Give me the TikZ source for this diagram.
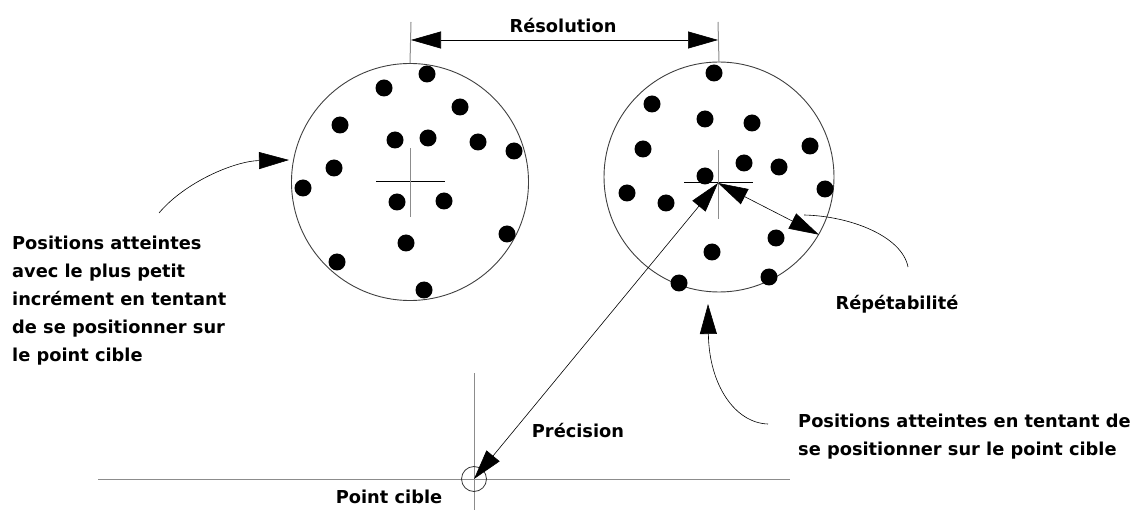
\documentclass[tikz,border=0pt]{standalone}
\usepackage{fontspec}
\setmainfont{DejaVu Sans}
\usetikzlibrary{arrows.meta}
\begin{document}
\begin{tikzpicture}[x=1pt,y=-1pt,
  ring/.style={circle,draw=black!75,line width=0.9pt,inner sep=0pt},
  dot/.style={circle,fill=black,inner sep=0pt,minimum size=17pt},
  grayline/.style={draw=black!45,line width=1pt},
  blackline/.style={draw=black,line width=1pt},
  dbl/.style={draw=black,line width=0.6pt,{Triangle[length=30pt,width=17pt]}-{Triangle[length=30pt,width=17pt]}},
  leader/.style={draw=black,line width=0.6pt,-{Triangle[length=30pt,width=17pt]}},
  plain/.style={draw=black,line width=0.6pt},
  lbl/.style={font=\bfseries\fontsize{17.8}{28}\selectfont,inner sep=0pt}
]
\useasboundingbox (0,0) rectangle (1137,510);
% circles
\node[ring,minimum size=237pt] (L) at (410,182) {};
\node[ring,minimum size=230pt] (R) at (719,177) {};
% crosses
\coordinate (xL) at (410,182);
\coordinate (xR) at (718,183);
\draw[blackline] ([xshift=-34pt]xL) -- ([xshift=35pt]xL);
\draw[grayline] ([yshift=-35pt]xL) -- ([yshift=34pt]xL);
\draw[blackline] ([xshift=-34pt]xR) -- ([xshift=35pt]xR);
\draw[grayline] ([yshift=-36pt]xR) -- ([yshift=33pt]xR);
% dots left
\foreach \p [count=\i] in {(427,74),(384,88),(460,107),(340,125),(395,140),(428,138),(478,142),(514,151),(334,168),(303,188),(397,202),(444,201),(507,234),(406,243),(337,262),(424,290)}
  \node[dot] (dl\i) at \p {};
% dots right
\foreach \p [count=\i] in {(714,73),(652,104),(705,119),(752,123),(643,149),(810,146),(744,163),(779,167),(705,176),(627,193),(666,203),(825,189),(776,238),(712,252),(769,277),(679,283)}
  \node[dot] (dr\i) at \p {};
% resolution
\coordinate (eL0) at (411,22);
\coordinate (eR0) at (718,22);
\draw[grayline] (eL0) -- (L.north);
\draw[grayline] (eR0) -- (R.north);
\coordinate (aL) at (411,40);
\coordinate (aR) at (718,40);
\draw[dbl] (aL) -- (aR);
\node[lbl] (res) at (563,26) {Résolution};
% target point
\coordinate (pc) at (474,479);
\coordinate (hl) at (98,479);
\coordinate (hr) at (790,479);
\coordinate (vt) at (474,373);
\coordinate (vb) at (474,510);
\draw[grayline] (hl) -- (hr);
\draw[grayline] (vt) -- (vb);
\node[circle,draw=black!80,line width=0.8pt,minimum size=25pt,inner sep=0pt] (tc) at (pc) {};
% precision
\draw[dbl] (xR) -- (pc);
\node[lbl] (prec) at (578,431) {Précision};
\node[lbl] (pcl) at (389,497) {Point cible};
% repetabilite
\coordinate (rp) at (R.-30);
\draw[dbl] (xR) -- (rp);
\coordinate (rs) at (804,215);
\coordinate (re) at (908,267);
\draw[plain] (rs) .. controls (850,216) and (902,236) .. (re);
\node[lbl] (rep) at (897,304) {Répétabilité};
% left leader
\coordinate (ls) at (159,213);
\coordinate (lt) at (289,160);
\draw[leader] (ls) .. controls (185,182) and (235,161) .. (lt);
\node[lbl,anchor=west,align=left] (ltext) at (12,301) {Positions atteintes\\avec le plus petit\\incrément en tentant\\de se positionner sur\\le point cible};
% bottom leader
\coordinate (bs) at (768,424);
\coordinate (bt) at (708,304);
\draw[leader] (bs) .. controls (735,423) and (709,385) .. (bt);
\node[lbl,anchor=west,align=left] (btext) at (798,437) {Positions atteintes en tentant de\\se positionner sur le point cible};
\end{tikzpicture}
\end{document}
